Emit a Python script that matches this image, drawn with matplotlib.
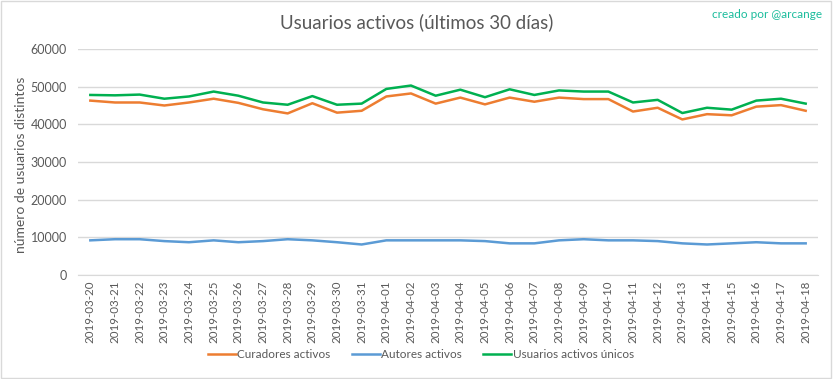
import numpy as np
import matplotlib
matplotlib.use("Agg")
import matplotlib.pyplot as plt

plt.rcParams['font.family'] = ['Lato', 'DejaVu Sans']

fechas = ["2019-03-20", "2019-03-21", "2019-03-22", "2019-03-23", "2019-03-24",
          "2019-03-25", "2019-03-26", "2019-03-27", "2019-03-28", "2019-03-29",
          "2019-03-30", "2019-03-31", "2019-04-01", "2019-04-02", "2019-04-03",
          "2019-04-04", "2019-04-05", "2019-04-06", "2019-04-07", "2019-04-08",
          "2019-04-09", "2019-04-10", "2019-04-11", "2019-04-12", "2019-04-13",
          "2019-04-14", "2019-04-15", "2019-04-16", "2019-04-17", "2019-04-18"]

curadores = [46300, 45800, 45800, 45000, 45800, 46800, 45700, 44000, 42900, 45600,
             43100, 43600, 47400, 48200, 45500, 47100, 45300, 47100, 46000, 47100,
             46700, 46700, 43400, 44400, 41300, 42700, 42400, 44700, 45100, 43600]

autores = [9200, 9500, 9500, 9000, 8700, 9200, 8700, 9000, 9500, 9200,
           8700, 8100, 9200, 9200, 9200, 9200, 9000, 8400, 8400, 9200,
           9500, 9200, 9200, 9000, 8400, 8100, 8400, 8700, 8400, 8400]

unicos = [47800, 47700, 47900, 46800, 47400, 48700, 47600, 45800, 45200, 47500,
          45200, 45500, 49400, 50300, 47600, 49200, 47200, 49300, 47800, 49000,
          48700, 48700, 45800, 46500, 43000, 44400, 43900, 46300, 46800, 45500]

GRIS = "#595959"

fig = plt.figure(figsize=(8.33, 3.79), dpi=100)
ax = fig.add_axes([78/833, 1 - 275/379, 740/833, 226/379])

x = np.arange(len(fechas))
ax.plot(x, curadores, color="#ED7D31", lw=1.8, label="Curadores activos")
ax.plot(x, autores, color="#5B9BD5", lw=1.8, label="Autores activos")
ax.plot(x, unicos, color="#00B050", lw=1.8, label="Usuarios activos únicos")

ax.set_xlim(-0.5, len(fechas) - 0.5)
ax.set_ylim(0, 60000)
ax.set_yticks(np.arange(0, 60001, 10000))
ax.grid(axis="y", color="#D9D9D9", lw=1)
ax.set_axisbelow(True)
for s in ["top", "right", "left"]:
    ax.spines[s].set_visible(False)
ax.spines["bottom"].set_color("#D9D9D9")
ax.set_xticks(x)
ax.set_xticklabels(fechas, rotation=90, fontsize=8.3, color=GRIS)
ax.tick_params(axis="y", length=0, labelsize=9, colors=GRIS, pad=8)
ax.tick_params(axis="x", length=0, pad=4)

# etiqueta del eje y colocada a mano, mas cerca de los numeros
fig.text(21/833, 1 - 165/379, "número de usuarios distintos", rotation=90,
         ha="center", va="center", fontsize=10, color=GRIS)

fig.text(0.5, 1 - 22/379, "Usuarios activos (últimos 30 días)", ha="center", va="center",
         fontsize=13.5, color=GRIS)
fig.text(822/833, 1 - 14/379, "creado por @arcange", ha="right", va="center",
         fontsize=8.5, color="#1ABC9C")

fig.legend(loc="center", bbox_to_anchor=(0.505, 1 - 355/379), ncol=3, frameon=False,
           fontsize=8.5, labelcolor=GRIS, handlelength=2.4, handletextpad=0.1,
           columnspacing=1.8)

fig.patches.append(plt.Rectangle((0.001, 0.002), 0.997, 0.995, transform=fig.transFigure,
                                 fill=False, edgecolor="#D9D9D9", lw=1))

fig.savefig("out.png", dpi=100)
